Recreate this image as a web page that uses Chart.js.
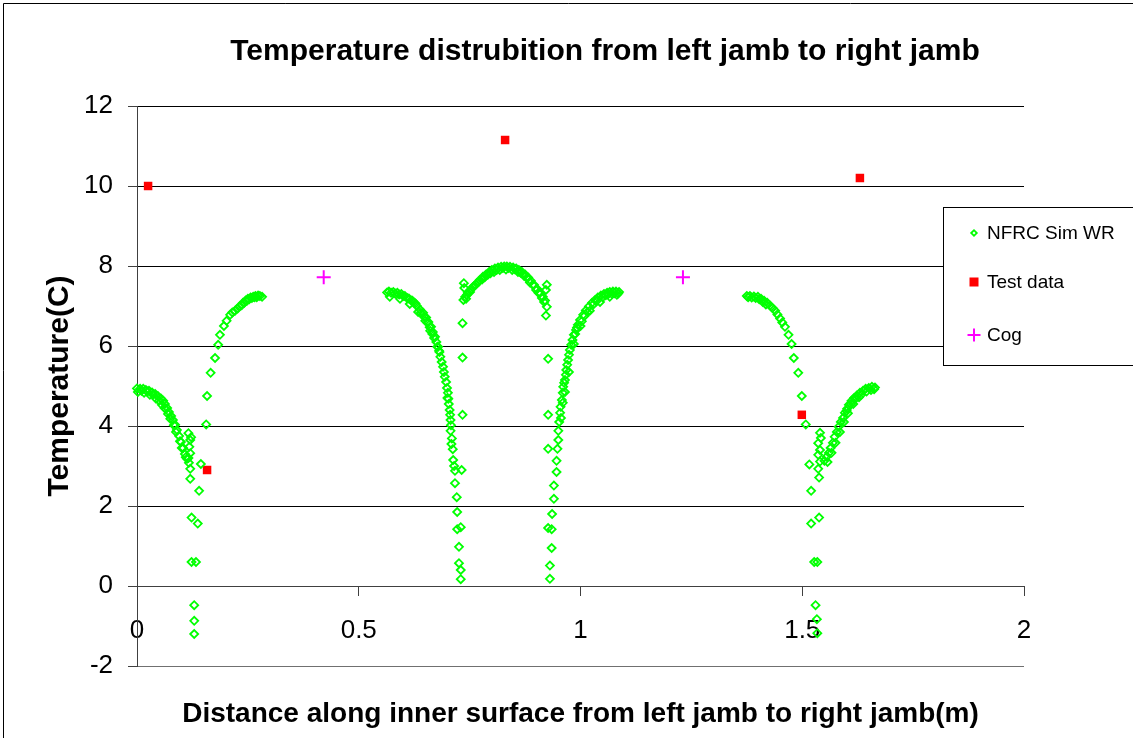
<!DOCTYPE html>
<html>
<head>
<meta charset="utf-8">
<title>Temperature distribution</title>
<script src="https://cdn.jsdelivr.net/npm/chart.js@4.4.0/dist/chart.umd.min.js"></script>
<style>
  html, body { margin: 0; padding: 0; background: #ffffff; }
  #wrap { width: 1133px; height: 738px; }
</style>
</head>
<body>
<div id="wrap"><canvas id="chart" width="1133" height="738"></canvas></div>
<script>
// ---- Simulated surface temperatures, NFRC Sim WR: [distance (m), temperature (C)] ----
const leftJamb = [
  [0.000,4.94],[0.007,4.93],[0.014,4.93],[0.020,4.90],[0.027,4.88],[0.034,4.84],[0.041,4.80],[0.047,4.75],
  [0.054,4.69],[0.059,4.63],[0.063,4.55],[0.068,4.45],[0.072,4.35],[0.077,4.25],[0.081,4.15],[0.086,4.03],
  [0.090,3.90],[0.095,3.75],[0.099,3.60],[0.104,3.45],[0.108,3.30],[0.113,3.18],[0.117,3.08],
  [0.002,4.85],[0.016,4.83],[0.029,4.78],[0.043,4.68],[0.056,4.53],[0.070,4.30],[0.083,4.02],[0.097,3.62],
  [0.010,4.88],[0.023,4.86],[0.036,4.78],[0.050,4.64],[0.062,4.45],[0.075,4.18],[0.088,3.85],[0.101,3.45],
  [0.110,3.22],
  [0.116,3.82],[0.122,3.72],[0.120,3.65],[0.118,3.48],[0.120,3.32],[0.116,3.20],
  [0.120,2.93],[0.120,2.68],[0.144,3.05],[0.140,2.38],[0.123,1.71],[0.137,1.56],[0.123,0.60],[0.133,0.60],
  [0.129,-0.48],[0.129,-0.87],[0.129,-1.20]
];
const leftFrame = [
  [0.156,4.04],[0.158,4.75],[0.166,5.33],[0.176,5.70],[0.183,6.03],[0.187,6.28],[0.196,6.50],[0.202,6.63],
  [0.210,6.78],[0.215,6.84],[0.221,6.88],[0.227,6.94],[0.232,7.00],[0.239,7.08],[0.245,7.14],[0.250,7.18],
  [0.256,7.21],[0.262,7.23],[0.267,7.25],[0.273,7.26],[0.277,7.25],[0.282,7.23],
  [0.236,7.02],[0.242,7.08],[0.248,7.13],[0.253,7.17],[0.259,7.20],[0.265,7.22],[0.270,7.22]
];
const leftSash = [
  [0.564,7.34],[0.573,7.33],[0.582,7.31],[0.591,7.29],[0.600,7.25],[0.609,7.20],[0.618,7.14],[0.625,7.08],
  [0.631,7.00],[0.638,6.91],[0.645,6.83],[0.652,6.71],[0.657,6.60],[0.663,6.48],[0.667,6.35],[0.672,6.23],
  [0.675,6.10],[0.679,5.98],[0.682,5.85],[0.684,5.73],[0.687,5.60],[0.690,5.48],[0.692,5.35],[0.694,5.23],
  [0.697,5.10],[0.699,4.95],[0.701,4.83],[0.702,4.68],[0.703,4.55],[0.705,4.40],[0.706,4.28],[0.707,4.15],
  [0.707,3.88],[0.710,3.69],[0.712,3.42],[0.713,3.15],[0.717,2.88],[0.717,2.57],[0.721,2.22],[0.722,1.85],
  [0.722,1.42],[0.726,0.98],[0.726,0.57],[0.730,0.40],[0.730,0.17],
  [0.570,7.23],[0.593,7.18],[0.615,7.05],[0.634,6.85],[0.650,6.63],[0.661,6.38],[0.700,4.70],[0.708,4.02],
  [0.709,3.55],[0.715,3.00],
  [0.568,7.36],[0.578,7.35],[0.587,7.33],[0.596,7.30],[0.604,7.25],[0.613,7.19],[0.621,7.13],[0.628,7.06],
  [0.640,6.83],[0.647,6.73],[0.655,6.58],[0.660,6.47],[0.666,6.30],[0.670,6.20],[0.677,5.98],[0.681,5.88],
  [0.737,7.57],[0.738,7.45],[0.734,6.57],[0.734,5.71],[0.734,4.28],[0.732,2.90],[0.730,1.47]
];
const meetingRail = [
  [0.736,7.15],[0.740,7.23],[0.742,7.18],[0.746,7.33],[0.753,7.41],[0.760,7.50],[0.767,7.58],[0.773,7.65],
  [0.780,7.73],[0.787,7.79],[0.794,7.85],[0.800,7.90],[0.807,7.94],[0.814,7.96],[0.821,7.98],[0.828,7.99],
  [0.834,7.99],[0.841,7.98],[0.848,7.96],[0.855,7.94],[0.861,7.90],[0.868,7.85],[0.875,7.79],[0.882,7.71],
  [0.888,7.63],[0.895,7.53],[0.902,7.43],[0.909,7.33],[0.915,7.23],[0.920,7.14],
  [0.751,7.35],[0.764,7.53],[0.778,7.66],[0.791,7.78],[0.805,7.85],[0.818,7.90],[0.832,7.91],[0.846,7.90],
  [0.859,7.85],[0.873,7.75],[0.886,7.59],[0.900,7.40],[0.913,7.20],
  [0.744,7.28],[0.757,7.47],[0.770,7.60],[0.784,7.72],[0.797,7.82],[0.811,7.90],[0.825,7.95],[0.838,7.95],
  [0.852,7.92],[0.865,7.83],[0.879,7.70],[0.892,7.53],[0.905,7.33],[0.918,7.10]
];
const rightSash = [
  [0.924,7.53],[0.922,7.40],[0.924,6.98],[0.922,6.76],[0.927,5.68],[0.927,4.28],[0.927,3.43],[0.927,1.45],
  [0.931,0.51],[0.931,0.18],
  [0.935,1.42],[0.935,0.95],[0.936,1.80],[0.940,2.18],[0.940,2.51],[0.946,2.85],[0.946,3.13],[0.948,3.43],
  [0.950,3.65],[0.950,3.88],[0.952,4.10],[0.954,4.33],[0.955,4.48],[0.958,4.65],[0.960,4.83],[0.961,4.98],
  [0.963,5.08],[0.965,5.15],[0.967,5.28],[0.968,5.40],[0.970,5.53],[0.972,5.65],[0.974,5.78],[0.976,5.90],
  [0.979,6.03],[0.982,6.15],[0.985,6.28],[0.990,6.40],[0.994,6.53],[0.999,6.65],[1.006,6.78],[1.012,6.89],
  [1.019,6.99],[1.026,7.08],[1.033,7.15],[1.039,7.21],[1.046,7.26],[1.053,7.30],[1.060,7.33],[1.066,7.35],
  [1.073,7.36],[1.080,7.36],[1.087,7.35],
  [1.021,6.88],[1.044,7.10],[1.066,7.23],[1.082,7.28],[0.956,4.20],[0.960,4.58],[0.965,4.85],[0.974,5.35],
  [0.985,6.05],[1.000,6.50],
  [1.003,6.62],[1.009,6.75],[1.016,6.85],[1.029,7.04],[1.036,7.12],[1.050,7.22],[1.057,7.27],[1.063,7.30],
  [1.070,7.31],[1.077,7.32],[1.085,7.31],[0.992,6.46],[0.988,6.30]
];
const rightFrame = [
  [1.375,7.25],[1.382,7.25],[1.391,7.24],[1.400,7.23],[1.407,7.18],[1.414,7.13],[1.421,7.08],[1.427,7.01],
  [1.433,6.95],[1.439,6.88],[1.444,6.79],[1.450,6.69],[1.455,6.59],[1.461,6.48],[1.469,6.28],[1.476,6.05],
  [1.481,5.70],[1.491,5.33],[1.499,4.75],[1.508,4.04],[1.516,3.04],[1.520,2.38],[1.520,1.56],[1.538,1.71],
  [1.527,0.60],[1.534,0.60],[1.530,-0.48],[1.533,-0.83],[1.534,-1.18],[1.538,2.71],[1.536,2.93],
  [1.378,7.22],[1.386,7.21],[1.395,7.20],[1.403,7.17],[1.411,7.10],[1.418,7.04]
];
const rightJamb = [
  [1.540,3.83],[1.542,3.70],[1.536,3.57],[1.540,3.40],[1.536,3.28],[1.540,3.11],
  [1.550,3.13],[1.555,3.23],[1.560,3.33],[1.564,3.45],[1.569,3.58],[1.573,3.73],[1.578,3.85],[1.582,3.98],
  [1.587,4.10],[1.592,4.20],[1.596,4.33],[1.601,4.43],[1.605,4.53],[1.611,4.63],[1.617,4.70],[1.623,4.76],
  [1.630,4.83],[1.637,4.88],[1.643,4.93],[1.650,4.95],[1.657,4.98],[1.664,4.96],
  [1.557,3.10],[1.566,3.33],[1.575,3.58],[1.585,3.85],[1.594,4.10],[1.603,4.32],[1.615,4.55],[1.628,4.72],
  [1.600,4.38],[1.610,4.55],[1.620,4.68],[1.633,4.78],[1.645,4.86],[1.655,4.90],[1.662,4.92]
];

// ---- Measured surface temperatures ----
const testX = [0.025, 0.158, 0.830, 1.499, 1.630];
const testY = [10.0, 2.9, 11.15, 4.28, 10.2];

// ---- Centre-of-glass values ----
const cogX = [0.421, 1.231];
const cogY = [7.72, 7.72];

// ---- Axes ----
const xTicks = [0, 0.5, 1, 1.5, 2];
const xTickLabels = ['0', '0.5', '1', '1.5', '2'];
const yTicks = [-2, 0, 2, 4, 6, 8, 10, 12];

const chartTitle = 'Temperature distrubition from left jamb to right jamb';
const xTitle = 'Distance along inner surface from left jamb to right jamb(m)';
const yTitle = 'Temperature(C)';

const FONT = '"Liberation Sans", Arial, Helvetica, sans-serif';

const pairsToPoints = pairs => pairs.map(([x, y]) => ({ x, y }));
const zipPoints = (xs, ys) => xs.map((x, i) => ({ x, y: ys[i] }));
const simPoints = pairsToPoints([].concat(leftJamb, leftFrame, leftSash, meetingRail, rightSash, rightFrame, rightJamb));

// Legend marker shapes, drawn to match each dataset's point style
function drawMarker(c, ds, x, y, r) {
  c.save();
  c.strokeStyle = ds.borderColor;
  c.fillStyle = ds.backgroundColor;
  c.lineWidth = ds.pointBorderWidth;
  c.beginPath();
  if (ds.pointStyle === 'rectRot') {
    c.moveTo(x - r, y); c.lineTo(x, y - r); c.lineTo(x + r, y); c.lineTo(x, y + r); c.closePath();
    c.stroke();
  } else if (ds.pointStyle === 'rect') {
    c.fillRect(x - r, y - r, 2 * r, 2 * r);
  } else if (ds.pointStyle === 'cross') {
    c.moveTo(x - r, y); c.lineTo(x + r, y); c.moveTo(x, y - r); c.lineTo(x, y + r);
    c.stroke();
  }
  c.restore();
}

// Titles, outer frame and the boxed legend on the right
const decorations = {
  id: 'decorations',
  afterDraw(chart) {
    const c = chart.ctx;
    const area = chart.chartArea;
    c.save();
    c.strokeStyle = '#000000';
    c.lineWidth = 1;
    c.beginPath();
    c.moveTo(3.5, 738); c.lineTo(3.5, 3.5); c.lineTo(1133, 3.5);
    c.stroke();

    c.fillStyle = '#000000';
    c.textAlign = 'center';
    c.textBaseline = 'alphabetic';
    c.font = 'bold 30px ' + FONT;
    c.fillText(chartTitle, 605, 60);

    c.font = 'bold 28px ' + FONT;
    c.fillText(xTitle, (area.left + area.right) / 2, 722);

    c.save();
    c.font = 'bold 30px ' + FONT;
    c.translate(68, (area.top + area.bottom) / 2);
    c.rotate(-Math.PI / 2);
    c.fillText(yTitle, 0, 0);
    c.restore();

    // legend box
    const lx = 943.5, ly = 207.5, lw = 190, lh = 158;
    c.fillStyle = '#ffffff';
    c.fillRect(lx, ly, lw, lh);
    c.strokeStyle = '#000000';
    c.lineWidth = 1;
    c.strokeRect(lx, ly, lw, lh);

    const rows = [233, 282, 335];
    const sizes = [2.8, 4.5, 6.5];
    c.font = '19px ' + FONT;
    c.textAlign = 'left';
    c.textBaseline = 'middle';
    chart.data.datasets.forEach((ds, i) => {
      drawMarker(c, ds, 974, rows[i], sizes[i]);
      c.fillStyle = '#000000';
      c.fillText(ds.label, 987, rows[i] + 1);
    });
    c.restore();
  }
};

new Chart(document.getElementById('chart'), {
  type: 'scatter',
  data: {
    datasets: [
      {
        label: 'NFRC Sim WR',
        data: simPoints,
        pointStyle: 'rectRot',
        pointRadius: 4,
        pointBorderWidth: 1.8,
        borderColor: '#00ff00',
        backgroundColor: 'rgba(0,0,0,0)',
        showLine: false,
        clip: false
      },
      {
        label: 'Test data',
        data: zipPoints(testX, testY),
        pointStyle: 'rect',
        pointRadius: 6,
        pointBorderWidth: 0,
        borderColor: '#ff0000',
        backgroundColor: '#ff0000',
        showLine: false,
        clip: false
      },
      {
        label: 'Cog',
        data: zipPoints(cogX, cogY),
        pointStyle: 'cross',
        pointRadius: 7,
        pointBorderWidth: 2,
        borderColor: '#ff00ff',
        backgroundColor: '#ff00ff',
        showLine: false,
        clip: false
      }
    ]
  },
  options: {
    responsive: false,
    animation: false,
    events: [],
    layout: { padding: { left: 77, top: 106, right: 109, bottom: 72 } },
    plugins: {
      legend: { display: false },
      title: { display: false },
      tooltip: { enabled: false }
    },
    scales: {
      x: {
        type: 'linear',
        min: 0,
        max: 2,
        position: { y: 0 },
        afterBuildTicks: scale => { scale.ticks = xTicks.map(v => ({ value: v })); },
        ticks: {
          autoSkip: false,
          maxRotation: 0,
          padding: 20,
          color: '#000000',
          font: { family: FONT, size: 26 },
          callback: (value, index) => xTickLabels[index]
        },
        grid: { drawOnChartArea: false, drawTicks: true, tickLength: 9, tickColor: '#404040' },
        border: { display: true, color: '#404040', width: 1 }
      },
      y: {
        type: 'linear',
        min: -2,
        max: 12,
        afterFit: scale => { scale.width = 60; },
        afterBuildTicks: scale => { scale.ticks = yTicks.map(v => ({ value: v })); },
        ticks: {
          padding: 15,
          color: '#000000',
          font: { family: FONT, size: 26 },
          callback: value => String(value)
        },
        grid: {
          color: ctx => (ctx.tick && ctx.tick.value === -2) ? '#707070' : '#000000',
          lineWidth: 1,
          drawTicks: true,
          tickLength: 9,
          tickColor: '#404040'
        },
        border: { display: true, color: '#404040', width: 1 }
      }
    }
  },
  plugins: [decorations]
});
</script>
</body>
</html>
